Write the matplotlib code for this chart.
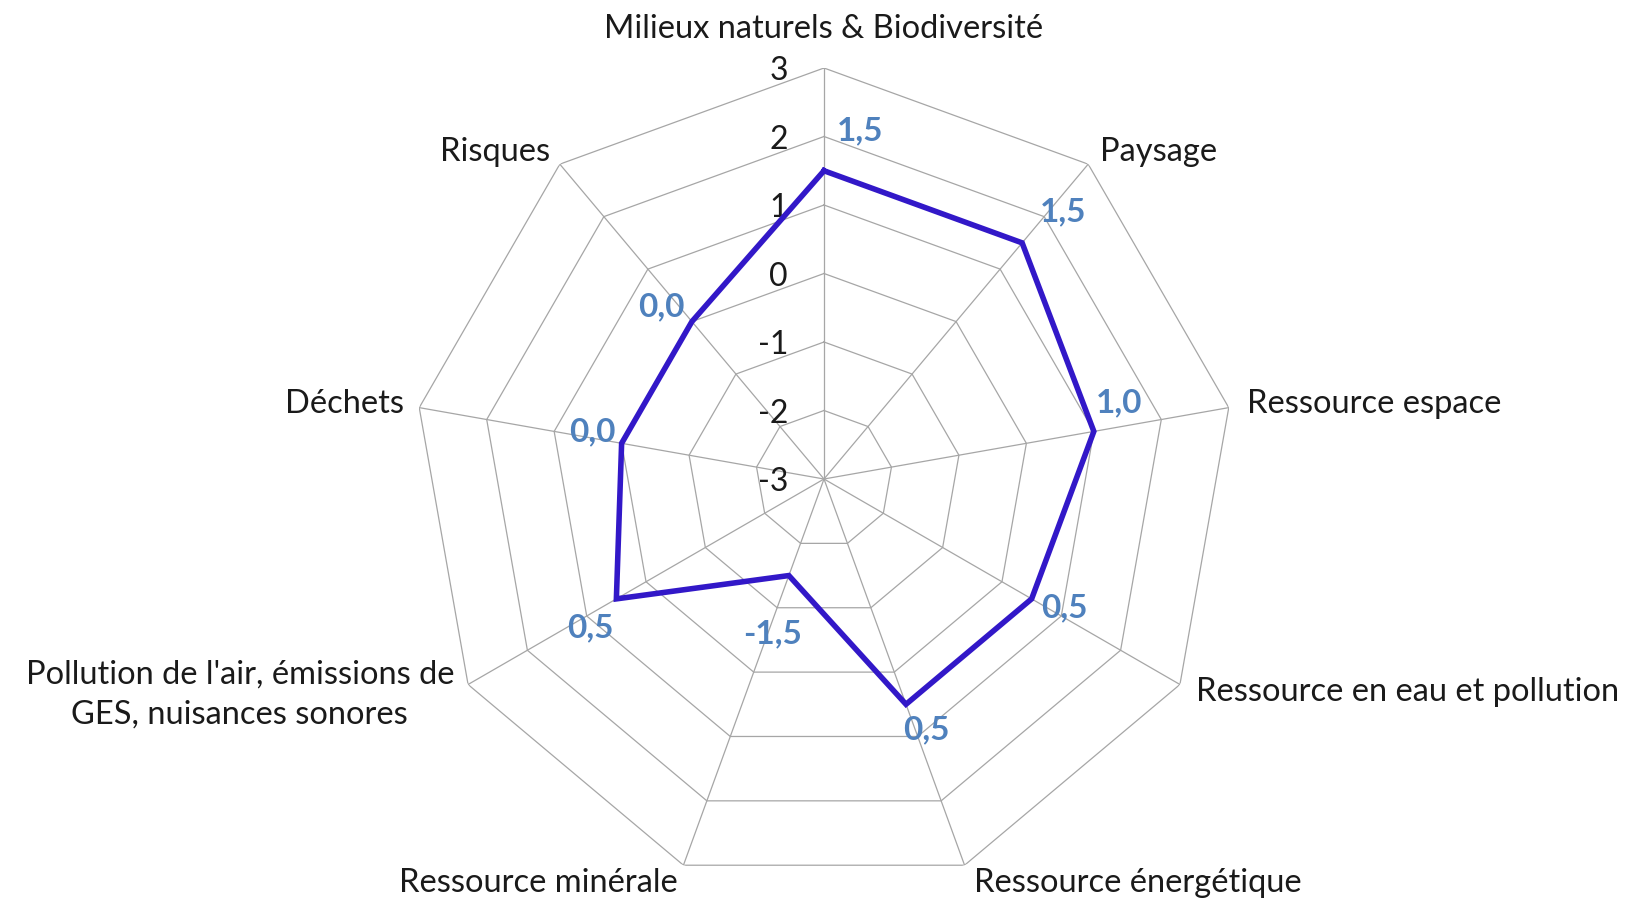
import numpy as np
import matplotlib.pyplot as plt

# enjeux environnementaux et note de chaque enjeu (-3 .. 3)
categories = ["Milieux naturels & Biodiversité", "Paysage", "Ressource espace",
              "Ressource en eau et pollution", "Ressource énergétique",
              "Ressource minérale",
              "Pollution de l'air, émissions de\nGES, nuisances sonores",
              "Déchets", "Risques"]
scores = [1.5, 1.5, 1.0, 0.5, 0.5, -1.5, 0.5, 0.0, 0.0]
ticks = [3, 2, 1, 0, -1, -2, -3]

# placement des étiquettes (pixels)
cat_offsets = [(0, 39), (12, 12), (18, 4), (16, -8), (9, -18), (-6, -18), (-14, -10), (-15, 4), (-10, 12)]
cat_ha = ["center", "left", "left", "left", "left", "right", "right", "right", "right"]
val_offsets = [(36, 40), (41, 31), (25, 29), (33, -9), (20, -26), (-16, -58), (-26, -29), (-29, 12), (-31, 15)]

plt.rcParams['font.family'] = ['Lato', 'DejaVu Sans']

fig = plt.figure(figsize=(16.3, 8.98), dpi=100)
cx, cy, R = 824, 479, 411
ax = fig.add_axes([(cx - R) / 1630, (898 - cy - R) / 898, 2 * R / 1630, 2 * R / 898], projection='polar')
ax.set_theta_zero_location('N')
ax.set_theta_direction(-1)
ax.set_ylim(-3, 3)
ax.grid(False)
ax.spines['polar'].set_visible(False)
ax.set_xticks([])
ax.set_yticks([])
ax.patch.set_visible(False)

n = len(categories)
ang = np.arange(n) * 2 * np.pi / n
ang_c = np.append(ang, ang[0])

grid_col = '#a6a6a6'
for t in ticks[:-1]:
    ax.plot(ang_c, [t] * (n + 1), color=grid_col, lw=0.9, zorder=1)
for a in ang:
    ax.plot([a, a], [-3, 3], color=grid_col, lw=0.9, zorder=1)

# graduations sur l'axe vertical
for t in ticks:
    ax.annotate(str(t), (0, t), xytext=(-36, -3), textcoords='offset pixels',
                ha='right', va='center', fontsize=23, color='#1a1a1a')

vals = np.append(scores, scores[0])
ax.plot(ang_c, vals, color='#3218c8', lw=4, zorder=3, solid_joinstyle='miter')

for a, v, off in zip(ang, scores, val_offsets):
    ax.annotate(f"{v:.1f}".replace('.', ','), (a, v), xytext=off, textcoords='offset pixels',
                ha='center', va='center', fontsize=24, fontweight='bold', color='#4f81bd', zorder=4)

for a, lab, off, ha in zip(ang, categories, cat_offsets, cat_ha):
    ax.annotate(lab, (a, 3), xytext=off, textcoords='offset pixels', ha=ha, va='center',
                multialignment='center', linespacing=1.45, fontsize=23.5, color='#1a1a1a',
                annotation_clip=False)

fig.savefig('out.png', dpi=100)
